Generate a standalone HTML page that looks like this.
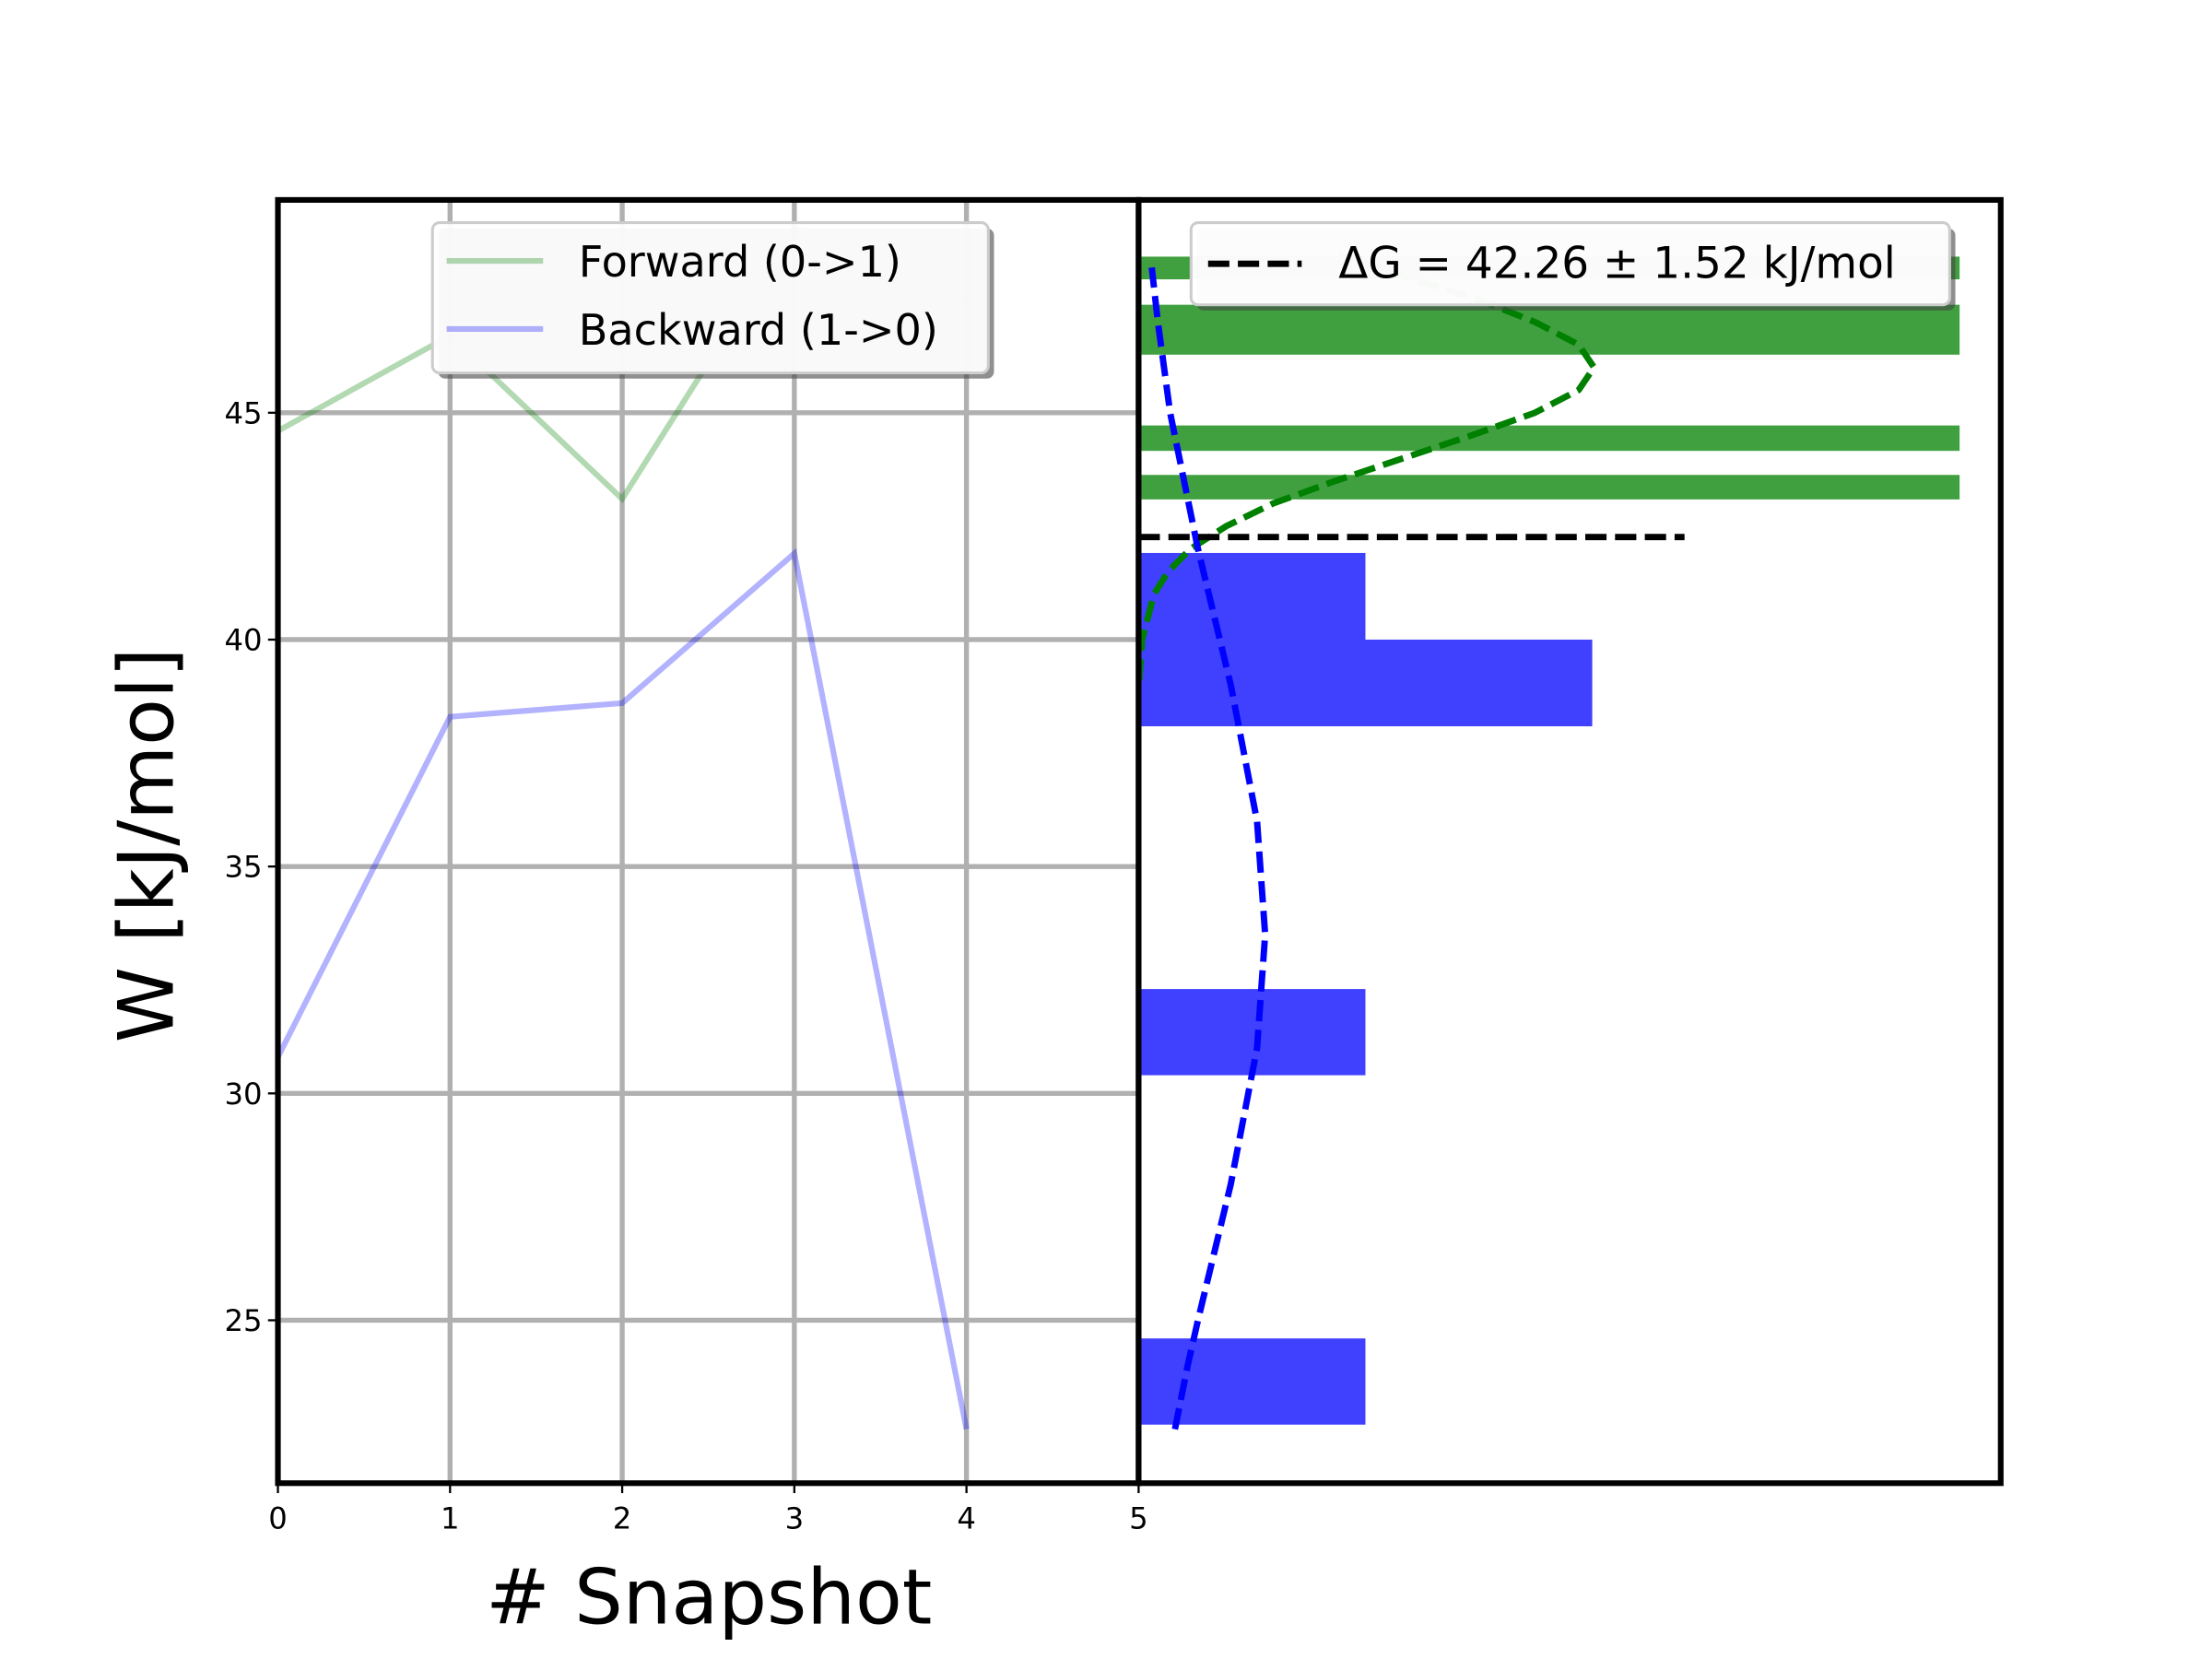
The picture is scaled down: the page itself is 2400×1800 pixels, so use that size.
<!DOCTYPE html>
<html><head><meta charset="utf-8"><style>
html,body{margin:0;padding:0;background:#fff;overflow:hidden}
svg{display:block}
text{font-family:"DejaVu Sans","Liberation Sans",sans-serif}
</style></head><body>
<svg id="chart" width="2400" height="1800" viewBox="0 0 1560 1170" xmlns="http://www.w3.org/2000/svg">
<g id="left"></g>
<g id="right"></g>
</svg>
<script>
const snapshots=[0,1,2,3,4];
const forwardW=[44.6,46.7,43.1,49.1,47.5];
const backwardW=[30.8,38.3,38.6,41.9,22.6];
const xTicks=[0,1,2,3,4,5];
const yTicks=[25,30,35,40,45];
const greenBins=[[47.94,48.44,0.375],[46.28,47.38,0.375],[44.16,44.72,0.375],[43.09,43.63,0.375]];
const blueBins=[[40.0,41.91,0.1036],[38.09,40.0,0.2072],[30.4,32.3,0.1036],[22.7,24.6,0.1036]];
const greenCurveY=[39.1,40,41,41.5,42,42.5,43,43.5,44,44.5,45,45.5,46,46.5,47,47.5,48,48.5];
const greenCurveD=[0.0003,0.0016,0.0070,0.0135,0.0237,0.040,0.0614,0.090,0.121,0.152,0.181,0.201,0.208,0.201,0.181,0.155,0.121,0.0915];
const blueCurveY=[22.6,24,25,28,31,33.5,36,39,42,45,47,48.2];
const blueCurveD=[0.0166,0.0224,0.0271,0.0421,0.0541,0.0578,0.0541,0.0421,0.0271,0.0144,0.0088,0.0060];
const dG=42.26;
const NS="http://www.w3.org/2000/svg";
const L=196,M=803,R=1411,T=141,B=1046;
const yMin=21.41,yMax=49.69;
const sy=v=>B-(v-yMin)/(yMax-yMin)*(B-T);
const sx=v=>L+v*(M-L)/5;
const sd=v=>M+v*1544;
function mk(tag,attrs,parent){const e=document.createElementNS(NS,tag);for(const k in attrs)e.setAttribute(k,attrs[k]);parent.appendChild(e);return e;}
const left=document.getElementById('left'),right=document.getElementById('right');
xTicks.forEach(t=>{const g=mk('line',{x1:sx(t),x2:sx(t),y1:T,y2:B,stroke:'#b0b0b0','stroke-width':3.5},left);

});
yTicks.forEach(t=>{const g=mk('line',{x1:L,x2:M,y1:sy(t),y2:sy(t),stroke:'#b0b0b0','stroke-width':3.5},left);

});
function poly(xs,ys,col,name){const p=mk('polyline',{points:xs.map((x,i)=>sx(x)+','+sy(ys[i])).join(' '),fill:'none',stroke:col,'stroke-width':4,'stroke-opacity':0.3},left);

}
poly(snapshots,forwardW,'green','forward-line');
poly(snapshots,backwardW,'blue','backward-line');
xTicks.forEach(t=>{mk('line',{x1:sx(t),x2:sx(t),y1:B,y2:B+7,stroke:'#000','stroke-width':1.5},left);
const tx=mk('text',{x:sx(t),y:B+32,'font-size':21,'text-anchor':'middle'},left);tx.textContent=t;

});
yTicks.forEach(t=>{mk('line',{x1:L-7,x2:L,y1:sy(t),y2:sy(t),stroke:'#000','stroke-width':1.5},left);
const tx=mk('text',{x:L-11,y:sy(t)+7.5,'font-size':21,'text-anchor':'end'},left);tx.textContent=t;

});
function bars(bins,col,name){bins.forEach(b=>{const r=mk('rect',{x:M,y:sy(b[1]),width:sd(b[2])-M,height:sy(b[0])-sy(b[1]),fill:col},right);

});}
bars(greenBins,'#40a040','forward-hist-bar');
bars(blueBins,'#4040ff','backward-hist-bar');
function curve(ys,ds,col,name){const p=mk('polyline',{points:ys.map((y,i)=>sd(ds[i])+','+sy(y)).join(' '),fill:'none',stroke:col,'stroke-width':4.5,'stroke-dasharray':'15,6','stroke-linejoin':'round'},right);

}
curve(greenCurveY,greenCurveD,'green','forward-gaussian');
curve(blueCurveY,blueCurveD,'blue','backward-gaussian');
const dl=mk('line',{x1:M,x2:1188,y1:sy(dG),y2:sy(dG),stroke:'#000','stroke-width':4.5,'stroke-dasharray':'15,6'},right);


const f1=mk('rect',{x:L,y:T,width:M-L,height:B-T,fill:'none',stroke:'#000','stroke-width':4},left);


const f2=mk('rect',{x:M,y:T,width:R-M,height:B-T,fill:'none',stroke:'#000','stroke-width':4},right);


</script>
<svg style="position:absolute;left:0;top:0" width="2400" height="1800" viewBox="0 0 1560 1170" xmlns="http://www.w3.org/2000/svg">
<g>
<rect x="309" y="161" width="392" height="106" rx="5" fill="#444" opacity="0.6"/>
<rect x="305" y="157" width="392" height="106" rx="5" fill="#fff" fill-opacity="0.95" stroke="#ccc" stroke-width="2"/>
<line x1="315" x2="383" y1="184" y2="184" stroke="green" stroke-opacity="0.3" stroke-width="4"/>
<text x="408" y="195" font-size="30">Forward (0-&gt;1)</text>
<line x1="315" x2="383" y1="232" y2="232" stroke="blue" stroke-opacity="0.3" stroke-width="4"/>
<text x="408" y="243" font-size="30">Backward (1-&gt;0)</text>
</g>
<g>
<rect x="844" y="161" width="535" height="58" rx="5" fill="#444" opacity="0.6"/>
<rect x="840" y="157" width="535" height="58" rx="5" fill="#fff" fill-opacity="0.97" stroke="#ccc" stroke-width="2"/>
<line x1="852" x2="918" y1="186" y2="186" stroke="#000" stroke-width="4.5" stroke-dasharray="15,6"/>
<text x="944" y="196" font-size="30.5">ΔG = 42.26 ± 1.52 kJ/mol</text>
</g>
<text x="500" y="1145" font-size="54" text-anchor="middle"># Snapshot</text>
<text transform="translate(122,596) rotate(-90)" font-size="54" text-anchor="middle">W [kJ/mol]</text>
</svg>
</body></html>
